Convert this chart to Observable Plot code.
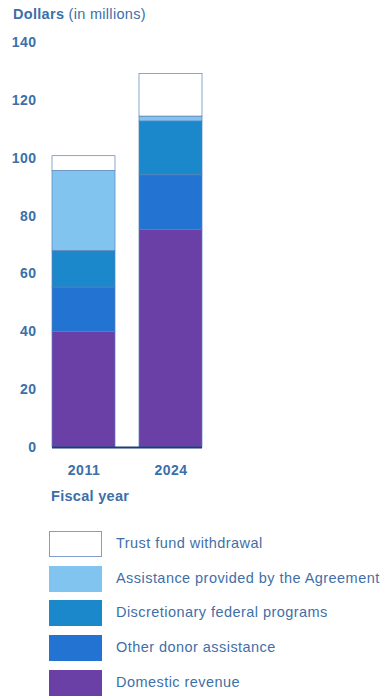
<!DOCTYPE html>
<html>
<head>
<meta charset="utf-8">
<script src="https://cdn.jsdelivr.net/npm/d3@7"></script>
<script src="https://cdn.jsdelivr.net/npm/@observablehq/plot@0.6"></script>
<style>
  html, body { margin: 0; padding: 0; background: #ffffff; }
  body { width: 383px; height: 696px; position: relative; overflow: hidden;
         font-family: "Liberation Sans", Arial, Helvetica, sans-serif; color: #3b6fa9; }
  #title { position: absolute; left: 13px; top: 6px; font-size: 14.5px; letter-spacing: 0.3px; }
  #title b { font-weight: bold; }
  #chart { position: absolute; left: 0; top: 28px; }
  #xlabel { position: absolute; left: 51px; top: 488px; font-size: 14.5px; font-weight: bold; letter-spacing: 0.3px; }
  .lg-row { position: absolute; left: 49px; height: 27px; }
  .lg-sw { position: absolute; left: 0; top: 0; width: 53px; height: 26px; box-sizing: border-box; }
  .lg-tx { position: absolute; left: 67px; top: 4px; font-size: 14.5px; letter-spacing: 0.45px; white-space: nowrap; color: #3f6fa8; }
</style>
</head>
<body>
<div id="title"><b>Dollars</b> (in millions)</div>
<div id="chart"></div>
<div id="xlabel">Fiscal year</div>
<div id="legend"></div>
<script>
const years = ["2011", "2024"];
const categories = [
  "Domestic revenue",
  "Other donor assistance",
  "Discretionary federal programs",
  "Assistance provided by the Agreement",
  "Trust fund withdrawal"
];
const values2011 = [40, 15.3, 12.6, 27.7, 5.1];
const values2024 = [75.2, 18.9, 18.6, 1.7, 14.7];
const colors = ["#6a40a6", "#2273d2", "#1c88cc", "#80c4ef", "#ffffff"];
const yTicks = [0, 20, 40, 60, 80, 100, 120, 140];
const legendOrder = [
  "Trust fund withdrawal",
  "Assistance provided by the Agreement",
  "Discretionary federal programs",
  "Other donor assistance",
  "Domestic revenue"
];

const data = [];
categories.forEach((c, i) => {
  data.push({year: years[0], category: c, value: values2011[i]});
  data.push({year: years[1], category: c, value: values2024[i]});
});

const chart = Plot.plot({
  width: 383,
  height: 454,
  marginLeft: 52,
  marginRight: 181,
  marginTop: 14,
  marginBottom: 35,
  style: {
    fontFamily: '"Liberation Sans", Arial, Helvetica, sans-serif',
    fontSize: "14px",
    fontWeight: "bold",
    letterSpacing: "0.5px",
    color: "#3b6fa9",
    background: "transparent"
  },
  x: {domain: years, paddingInner: 0.28, paddingOuter: 0, label: null},
  y: {domain: [0, 140], label: null},
  color: {domain: categories, range: colors},
  marks: [
    Plot.barY(data, {
      x: "year", y: "value", fill: "category", order: categories,
      stroke: "#5a80b8", strokeWidth: 0.7, inset: 0
    }),
    Plot.ruleY([0], {stroke: "#1e3b78", strokeWidth: 2.2}),
    Plot.axisY({ticks: yTicks, tickSize: 0, tickPadding: 16, label: null}),
    Plot.axisX({tickSize: 0, tickPadding: 18, label: null})
  ]
});
document.getElementById("chart").appendChild(chart);

const legend = document.getElementById("legend");
legendOrder.forEach((c, i) => {
  const row = document.createElement("div");
  row.className = "lg-row";
  row.style.top = (531 + i * 34.7) + "px";
  const sw = document.createElement("div");
  sw.className = "lg-sw";
  sw.style.background = colors[categories.indexOf(c)];
  if (c === "Trust fund withdrawal") sw.style.border = "1px solid #7f9fcc";
  const tx = document.createElement("div");
  tx.className = "lg-tx";
  tx.textContent = c;
  row.appendChild(sw);
  row.appendChild(tx);
  legend.appendChild(row);
});
</script>
</body>
</html>
